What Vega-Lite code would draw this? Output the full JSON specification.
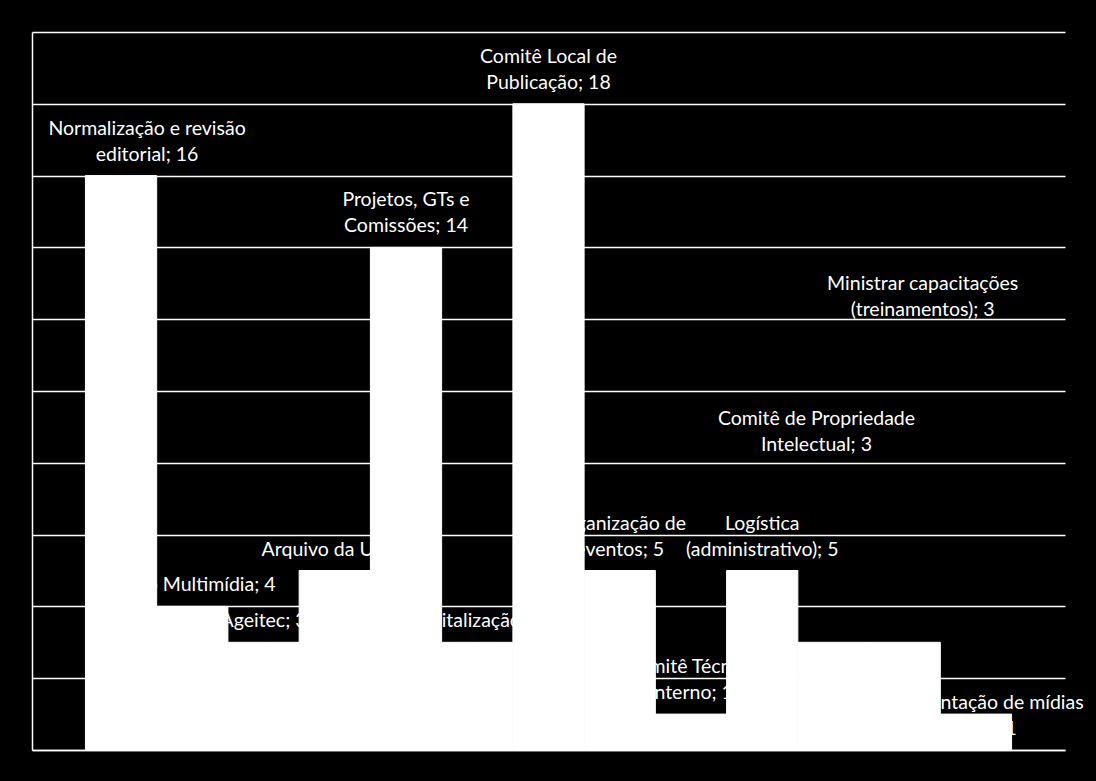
{
  "$schema": "https://vega.github.io/schema/vega-lite/v6.json",
  "width": 1033,
  "height": 718,
  "autosize": {"type": "none"},
  "padding": {"left": 32, "top": 32, "right": 31, "bottom": 31},
  "background": "#000000",
  "data": {
    "values": [
      {"categoria": "Normalização e revisão editorial", "valor": 16, "rotulo": "Normalização e revisão\neditorial; 16"},
      {"categoria": "Núcleo Multimídia", "valor": 4, "rotulo": "Núcleo Multimídia; 4"},
      {"categoria": "Ageitec", "valor": 3, "rotulo": "Ageitec; 3"},
      {"categoria": "Arquivo da Unidade", "valor": 5, "rotulo": "Arquivo da Unidade;\n5"},
      {"categoria": "Projetos, GTs e Comissões", "valor": 14, "rotulo": "Projetos, GTs e\nComissões; 14"},
      {"categoria": "Digitalização", "valor": 3, "rotulo": "Digitalização; 3"},
      {"categoria": "Comitê Local de Publicação", "valor": 18, "rotulo": "Comitê Local de\nPublicação; 18"},
      {"categoria": "Organização de eventos", "valor": 5, "rotulo": "Organização de\neventos; 5"},
      {"categoria": "Comitê Técnico Interno", "valor": 1, "rotulo": "Comitê Técnico\nInterno; 1"},
      {"categoria": "Logística (administrativo)", "valor": 5, "rotulo": "Logística\n(administrativo); 5"},
      {"categoria": "Comitê de Propriedade Intelectual", "valor": 3, "rotulo": "Comitê de Propriedade\nIntelectual; 3"},
      {"categoria": "Ministrar capacitações (treinamentos)", "valor": 3, "rotulo": "Ministrar capacitações\n(treinamentos); 3"},
      {"categoria": "Documentação de mídias digitais", "valor": 1, "rotulo": "Documentação de mídias\ndigitais; 1"}
    ]
  },
  "encoding": {
    "x": {
      "field": "categoria",
      "type": "nominal",
      "sort": ["Normalização e revisão editorial", "Núcleo Multimídia", "Ageitec", "Arquivo da Unidade", "Projetos, GTs e Comissões", "Digitalização", "Comitê Local de Publicação", "Organização de eventos", "Comitê Técnico Interno", "Logística (administrativo)", "Comitê de Propriedade Intelectual", "Ministrar capacitações (treinamentos)", "Documentação de mídias digitais"],
      "scale": {"paddingInner": 0, "paddingOuter": 0.75},
      "axis": {"title": null, "labels": false, "ticks": false, "domainColor": "#ffffff", "domainWidth": 1.5, "grid": false}
    },
    "y": {
      "field": "valor",
      "type": "quantitative",
      "scale": {"domain": [0, 20], "nice": false},
      "axis": {"title": null, "labels": false, "ticks": false, "values": [0, 2, 4, 6, 8, 10, 12, 14, 16, 18, 20], "grid": true, "gridColor": "#ffffff", "gridWidth": 1.5, "gridOpacity": 1, "domainColor": "#ffffff", "domainWidth": 1.5}
    }
  },
  "layer": [
    {
      "transform": [{"filter": {"field": "categoria", "oneOf": ["Ageitec", "Digitalização"]}}],
      "mark": {"type": "text", "font": "Lato", "fontSize": 19.5, "color": "#ffffff", "align": "center", "baseline": "bottom", "lineBreak": "\n", "lineHeight": 26, "dy": -11},
      "encoding": {"text": {"field": "rotulo"}}
    },
    {
      "transform": [{"filter": {"field": "categoria", "oneOf": ["Projetos, GTs e Comissões", "Comitê Local de Publicação", "Organização de eventos", "Comitê Técnico Interno", "Logística (administrativo)"]}}],
      "mark": {"type": "text", "font": "Lato", "fontSize": 19.5, "color": "#ffffff", "align": "center", "baseline": "bottom", "lineBreak": "\n", "lineHeight": 26, "dy": -37},
      "encoding": {"text": {"field": "rotulo"}}
    },
    {
      "transform": [{"filter": {"field": "categoria", "equal": "Núcleo Multimídia"}}],
      "mark": {"type": "text", "font": "Lato", "fontSize": 19.5, "color": "#ffffff", "align": "center", "baseline": "bottom", "lineBreak": "\n", "lineHeight": 26, "dx": -6, "dy": -11},
      "encoding": {"text": {"field": "rotulo"}}
    },
    {
      "transform": [{"filter": {"field": "categoria", "equal": "Normalização e revisão editorial"}}],
      "mark": {"type": "text", "font": "Lato", "fontSize": 19.5, "color": "#ffffff", "align": "center", "baseline": "bottom", "lineBreak": "\n", "lineHeight": 26, "dx": 26, "dy": -37},
      "encoding": {"text": {"field": "rotulo"}}
    },
    {
      "transform": [{"filter": {"field": "categoria", "equal": "Arquivo da Unidade"}}],
      "mark": {"type": "text", "font": "Lato", "fontSize": 19.5, "color": "#ffffff", "align": "center", "baseline": "bottom", "lineBreak": "\n", "lineHeight": 34, "dx": 14, "dy": -11},
      "encoding": {"text": {"field": "rotulo"}}
    },
    {
      "transform": [{"filter": {"field": "categoria", "equal": "Comitê de Propriedade Intelectual"}}],
      "mark": {"type": "text", "font": "Lato", "fontSize": 19.5, "color": "#ffffff", "align": "center", "baseline": "bottom", "lineBreak": "\n", "lineHeight": 26, "dx": -17, "dy": -213},
      "encoding": {"text": {"field": "rotulo"}}
    },
    {
      "transform": [{"filter": {"field": "categoria", "equal": "Ministrar capacitações (treinamentos)"}}],
      "mark": {"type": "text", "font": "Lato", "fontSize": 19.5, "color": "#ffffff", "align": "center", "baseline": "bottom", "lineBreak": "\n", "lineHeight": 26, "dx": 18, "dy": -348},
      "encoding": {"text": {"field": "rotulo"}}
    },
    {
      "transform": [{"filter": {"field": "categoria", "equal": "Documentação de mídias digitais"}}],
      "mark": {"type": "text", "font": "Lato", "fontSize": 19.5, "color": "#ffffff", "align": "center", "baseline": "bottom", "lineBreak": "\n", "lineHeight": 26, "dy": -1},
      "encoding": {"text": {"field": "rotulo"}}
    },
    {
      "mark": {"type": "bar", "color": "#ffffff", "opacity": 1, "stroke": "#ffffff", "strokeWidth": 1},
      "encoding": {}
    }
  ],
  "config": {"view": {"stroke": null}}
}
